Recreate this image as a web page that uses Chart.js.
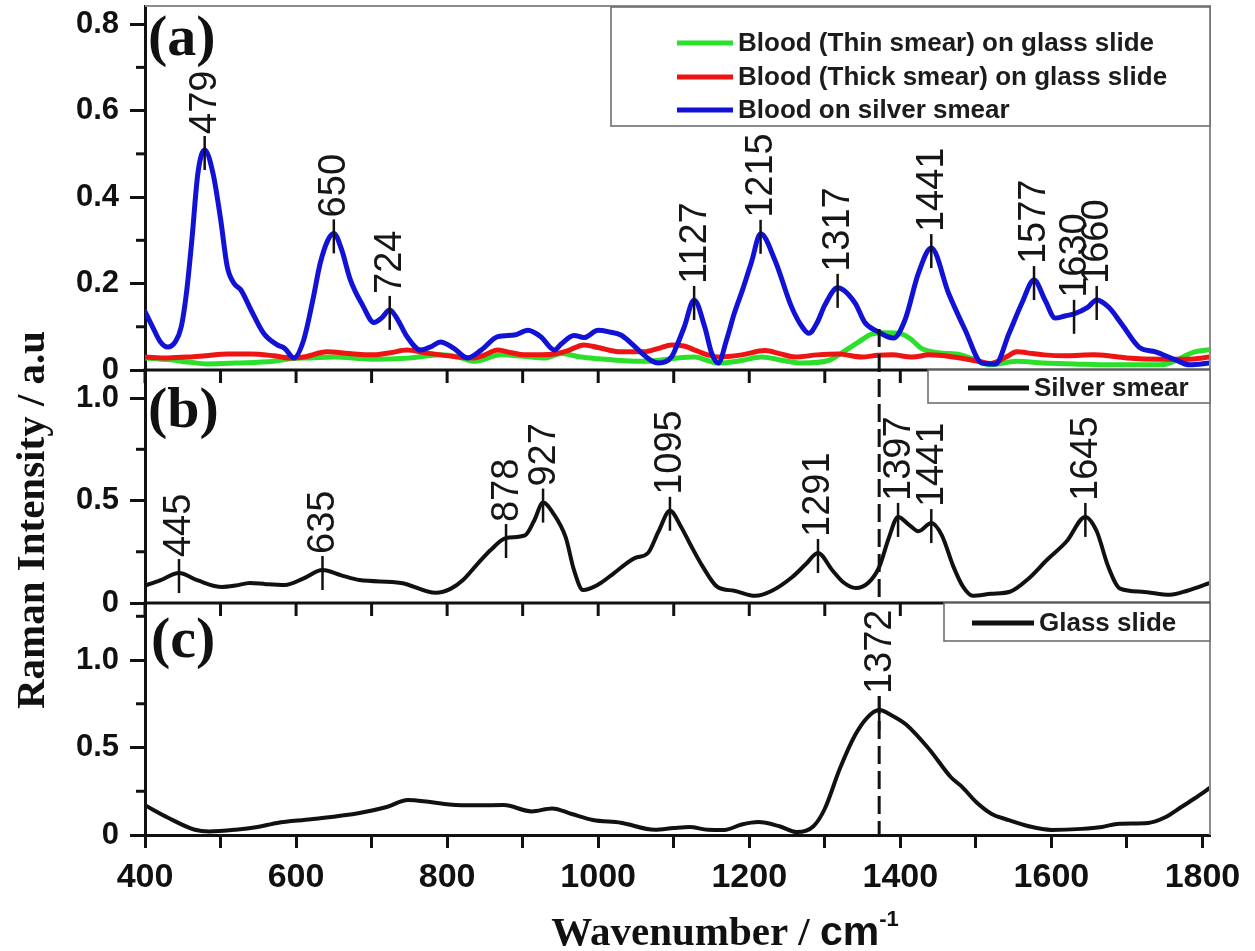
<!DOCTYPE html>
<html>
<head>
<meta charset="utf-8">
<title>Raman spectra</title>
<script src="https://cdn.jsdelivr.net/npm/chart.js@4.4.1/dist/chart.umd.min.js"></script>
<style>
  html, body { margin: 0; padding: 0; background: #fff; }
  #wrap { position: relative; width: 1255px; height: 951px; }
</style>
</head>
<body>
<div id="wrap"><canvas id="spectra"></canvas></div>
<script>
// ---- Panel (a): blood smears ----
const bloodSilverX = [400,410,420,430,440,448,455,462,470,479,
  490,500,509,518,527,540,557,575,585,597,
  610,622,632,642,650,660,672,688,703,713,
  724,735,747,765,780,791,809,827,845,867,
  889,907,924,942,951,968,981,1000,1015,1030,
  1045,1057,1070,1080,1097,1105,1114,1127,1141,1150,
  1159,1170,1180,1192,1203,1215,1234,1256,1270,1279,
  1290,1300,1317,1340,1353,1369,1391,1406,1424,1441,
  1464,1486,1508,1526,1544,1561,1577,1592,1605,1618,
  1630,1648,1660,1676,1694,1716,1738,1765,1783,1810];
const bloodSilverY = [0.135,0.10,0.066,0.053,0.065,0.10,0.18,0.30,0.455,0.509,
  0.455,0.35,0.238,0.20,0.185,0.14,0.085,0.058,0.05,0.028,
  0.069,0.16,0.247,0.30,0.316,0.28,0.208,0.15,0.11,0.12,
  0.139,0.115,0.077,0.046,0.055,0.065,0.05,0.028,0.046,0.077,
  0.081,0.092,0.077,0.046,0.06,0.08,0.075,0.092,0.088,0.081,
  0.06,0.04,0.022,0.016,0.03,0.06,0.10,0.162,0.10,0.04,
  0.016,0.07,0.13,0.19,0.25,0.315,0.254,0.146,0.10,0.085,
  0.11,0.15,0.19,0.155,0.11,0.09,0.074,0.115,0.224,0.282,
  0.177,0.092,0.016,0.014,0.085,0.155,0.208,0.16,0.12,0.125,
  0.13,0.145,0.162,0.145,0.104,0.053,0.042,0.023,0.012,0.016];

const thickX = [400,430,458,480,510,540,570,592,610,641,
  670,703,725,747,770,791,815,836,850,867,
  885,902,925,942,960,981,1000,1030,1060,1080,
  1097,1115,1128,1145,1159,1190,1221,1240,1261,1290,
  1318,1349,1370,1389,1416,1438,1470,1504,1519,1540,
  1554,1575,1590,1620,1656,1680,1700,1745,1780,1810];
const thickY = [0.03,0.028,0.03,0.033,0.037,0.037,0.033,0.028,0.03,0.042,
  0.038,0.035,0.04,0.046,0.04,0.035,0.03,0.028,0.035,0.046,
  0.04,0.035,0.035,0.037,0.045,0.058,0.052,0.042,0.042,0.05,
  0.058,0.055,0.046,0.035,0.03,0.035,0.045,0.038,0.03,0.035,
  0.037,0.03,0.034,0.035,0.03,0.035,0.03,0.02,0.015,0.03,
  0.042,0.038,0.035,0.033,0.035,0.032,0.028,0.025,0.025,0.03];

const thinX = [400,430,460,482,520,570,592,620,650,700,
  750,791,815,836,871,900,930,951,977,1000,
  1030,1065,1105,1128,1145,1159,1190,1216,1245,1270,
  1305,1327,1345,1362,1380,1402,1415,1428,1450,1480,
  1504,1519,1554,1590,1630,1678,1745,1765,1776,1790,
  1810];
const thinY = [0.028,0.024,0.018,0.014,0.016,0.02,0.026,0.028,0.03,0.025,
  0.028,0.035,0.03,0.02,0.035,0.032,0.028,0.038,0.03,0.026,
  0.022,0.02,0.028,0.03,0.022,0.016,0.022,0.03,0.022,0.016,
  0.022,0.045,0.065,0.083,0.086,0.083,0.07,0.05,0.04,0.035,
  0.02,0.012,0.02,0.016,0.014,0.012,0.012,0.022,0.032,0.042,
  0.047];

// ---- Panel (b): bare silver smear ----
const silverX = [400,420,445,470,502,520,539,560,585,610,
  635,660,684,739,785,805,821,840,858,878,
  903,915,927,940,957,968,980,1000,1021,1040,
  1049,1066,1080,1095,1110,1121,1138,1158,1180,1208,
  1230,1257,1275,1291,1310,1325,1341,1358,1372,1385,
  1397,1412,1424,1441,1455,1470,1483,1496,1520,1545,
  1570,1594,1620,1645,1660,1675,1691,1720,1757,1780,
  1810];
const silverY = [0.085,0.11,0.146,0.11,0.078,0.085,0.098,0.092,0.088,0.12,
  0.161,0.135,0.112,0.098,0.05,0.07,0.112,0.19,0.26,0.317,
  0.33,0.4,0.49,0.44,0.32,0.16,0.063,0.09,0.146,0.2,
  0.22,0.244,0.35,0.45,0.37,0.293,0.18,0.078,0.06,0.035,
  0.06,0.127,0.19,0.244,0.16,0.1,0.073,0.1,0.175,0.32,
  0.42,0.38,0.35,0.39,0.33,0.18,0.08,0.035,0.045,0.055,
  0.12,0.21,0.3,0.42,0.35,0.18,0.07,0.055,0.04,0.06,
  0.098];

// ---- Panel (c): bare glass slide ----
const glassX = [400,430,466,485,520,549,575,620,684,720,
  748,775,803,840,875,912,939,965,993,1030,
  1075,1100,1121,1145,1167,1190,1212,1240,1263,1285,
  1300,1320,1340,1356,1372,1390,1408,1439,1467,1482,
  1500,1521,1540,1570,1600,1640,1667,1690,1728,1750,
  1772,1790,1810];
const glassY = [0.17,0.1,0.03,0.02,0.03,0.046,0.069,0.09,0.126,0.16,
  0.2,0.19,0.175,0.17,0.171,0.135,0.152,0.12,0.086,0.07,
  0.03,0.04,0.046,0.03,0.029,0.06,0.074,0.05,0.017,0.05,
  0.15,0.38,0.57,0.67,0.714,0.68,0.63,0.486,0.33,0.274,
  0.19,0.12,0.09,0.05,0.029,0.035,0.046,0.065,0.069,0.1,
  0.16,0.21,0.27];

// ---- Labelled band positions (cm^-1) ----
const peaksA = [479, 650, 724, 1127, 1215, 1317, 1441, 1577, 1630, 1660];
const peaksB = [445, 635, 878, 927, 1095, 1291, 1397, 1441, 1645];
const peaksC = [1372];
const guideBand = 1372;          // dashed guide through all panels
const guideTopA = 0.095;         // where the guide starts in panel (a)

// ---- Axis ticks and labels ----
const xTickValues = [400,500,600,700,800,900,1000,1100,1200,1300,1400,1500,1600,1700,1800];
const xTickLabels = [400, 600, 800, 1000, 1200, 1400, 1600, 1800];
const panelTags = ['(a)', '(b)', '(c)'];

const SANS = "'Liberation Sans', Arial, sans-serif";
const SERIF = "'Liberation Serif', 'Times New Roman', serif";
const INK = '#111';

const pts = (xs, ys) => xs.map((x, i) => ({ x, y: ys[i] }));
const valueAt = (xs, ys, x) => ys[xs.indexOf(x)];

const lineStyle = {
  pointRadius: 0, fill: false, cubicInterpolationMode: 'monotone',
  borderJoinStyle: 'round', borderCapStyle: 'round'
};

const datasets = [
  { ...lineStyle, label: 'Blood on silver smear', data: pts(bloodSilverX, bloodSilverY),
    borderColor: '#1212d6', borderWidth: 5, yAxisID: 'yA', order: 0 },
  { ...lineStyle, label: 'Blood (Thick smear) on glass slide', data: pts(thickX, thickY),
    borderColor: '#ee1414', borderWidth: 5, yAxisID: 'yA', order: 1 },
  { ...lineStyle, label: 'Blood (Thin smear) on glass slide', data: pts(thinX, thinY),
    borderColor: '#2ae02a', borderWidth: 5, yAxisID: 'yA', order: 2 },
  { ...lineStyle, label: 'Silver smear', data: pts(silverX, silverY),
    borderColor: INK, borderWidth: 4, yAxisID: 'yB', order: 3 },
  { ...lineStyle, label: 'Glass slide', data: pts(glassX, glassY),
    borderColor: INK, borderWidth: 4, yAxisID: 'yC', order: 4 }
];

const yFmt = v => (v === 0 ? '0' : v.toFixed(1));

function panelAxis(max, step, weight, stackWeight) {
  return {
    type: 'linear', position: 'left', stack: 'panels', stackWeight, weight,
    min: 0, max,
    // fixed gutter width; no extra room reserved for the end labels
    afterFit: s => { s.width = 145; s.paddingTop = 0; s.paddingBottom = 0; },
    border: { color: INK, width: 3 },
    grid: { drawOnChartArea: false, drawTicks: true, tickLength: 15, tickWidth: 3, tickColor: INK },
    ticks: {
      stepSize: step, includeBounds: false, padding: 11, color: INK,
      font: { family: SANS, size: 31, weight: 'bold' }, callback: yFmt
    }
  };
}

function strokeLine(ctx, x1, y1, x2, y2) {
  ctx.beginPath(); ctx.moveTo(x1, y1); ctx.lineTo(x2, y2); ctx.stroke();
}

function drawPeaks(ctx, xScale, yScale, peaks, xs, ys) {
  ctx.save();
  ctx.strokeStyle = INK; ctx.lineWidth = 2.5; ctx.fillStyle = '#161616';
  ctx.font = `38px ${SANS}`; ctx.textAlign = 'left'; ctx.textBaseline = 'middle';
  peaks.forEach(p => {
    const px = xScale.getPixelForValue(p);
    const py = yScale.getPixelForValue(valueAt(xs, ys, p));
    strokeLine(ctx, px, py - 14, px, py + 20);
    ctx.save();
    ctx.translate(px + 1, py - 16);
    ctx.rotate(-Math.PI / 2);
    ctx.fillText(String(p), 0, 0);
    ctx.restore();
  });
  ctx.restore();
}

function drawLegend(ctx, box, entries) {
  ctx.save();
  ctx.fillStyle = '#fff';
  ctx.fillRect(box.l, box.t, box.r - box.l, box.b - box.t);
  ctx.strokeStyle = '#6e6e6e'; ctx.lineWidth = 1.6;
  ctx.strokeRect(box.l, box.t, box.r - box.l, box.b - box.t);
  ctx.font = `bold 26px ${SANS}`; ctx.textBaseline = 'middle'; ctx.textAlign = 'left';
  entries.forEach(e => {
    ctx.strokeStyle = e.color; ctx.lineWidth = 5; ctx.lineCap = 'butt';
    strokeLine(ctx, e.x1, e.y, e.x2, e.y);
    ctx.fillStyle = '#1c1c1c';
    ctx.fillText(e.label, e.x2 + 5, e.y + 1);
  });
  ctx.restore();
}

const decor = {
  id: 'decor',
  afterDatasetsDraw(chart) {
    const { ctx, scales } = chart;
    const { x, yA, yB, yC } = scales;
    const ds = chart.data.datasets;
    ctx.save();

    // light frame along the top and the right edge
    ctx.strokeStyle = '#8c8c8c'; ctx.lineWidth = 2;
    ctx.beginPath();
    ctx.moveTo(x.left, yA.top); ctx.lineTo(x.right, yA.top); ctx.lineTo(x.right, yC.bottom);
    ctx.stroke();

    // axis lines between stacked panels, with ticks hanging into the panel below
    ctx.strokeStyle = INK; ctx.lineWidth = 3;
    [yA, yB].forEach(s => {
      strokeLine(ctx, x.left - 1.5, s.bottom, x.right, s.bottom);
      x.ticks.forEach(t => {
        const px = x.getPixelForValue(t.value);
        strokeLine(ctx, px, s.bottom, px, s.bottom + 13);
      });
    });

    // minor ticks on each intensity axis
    [yA, yB, yC].forEach(s => {
      const step = s.ticks[1].value - s.ticks[0].value;
      s.ticks.forEach(t => {
        const m = t.value + step / 2;
        if (m < s.max) {
          const py = s.getPixelForValue(m);
          strokeLine(ctx, s.right - 9, py, s.right, py);
        }
      });
    });

    // band markers
    drawPeaks(ctx, x, yA, peaksA, bloodSilverX, bloodSilverY);
    drawPeaks(ctx, x, yB, peaksB, silverX, silverY);
    drawPeaks(ctx, x, yC, peaksC, glassX, glassY);

    // dashed guide at the glass band
    const gx = x.getPixelForValue(guideBand);
    ctx.setLineDash([18, 7]); ctx.lineWidth = 3; ctx.strokeStyle = INK;
    strokeLine(ctx, gx, yA.getPixelForValue(guideTopA), gx, yB.bottom);
    strokeLine(ctx, gx, yC.getPixelForValue(valueAt(glassX, glassY, guideBand)) - 14, gx, yC.bottom);
    ctx.setLineDash([]);

    // legends
    drawLegend(ctx, { l: 611, t: yA.top + 1, r: x.right, b: 126 }, [
      { label: ds[2].label, color: ds[2].borderColor, x1: 677, x2: 733, y: 43 },
      { label: ds[1].label, color: ds[1].borderColor, x1: 677, x2: 733, y: 77 },
      { label: ds[0].label, color: ds[0].borderColor, x1: 677, x2: 733, y: 110 }
    ]);
    drawLegend(ctx, { l: 928, t: yB.top, r: x.right, b: yB.top + 33 }, [
      { label: ds[3].label, color: INK, x1: 968, x2: 1029, y: yB.top + 18 }
    ]);
    drawLegend(ctx, { l: 944, t: yC.top, r: x.right, b: yC.top + 38 }, [
      { label: ds[4].label, color: INK, x1: 972, x2: 1034, y: yC.top + 20 }
    ]);

    // panel tags
    ctx.fillStyle = INK; ctx.font = `bold 58px ${SERIF}`;
    ctx.textAlign = 'left'; ctx.textBaseline = 'alphabetic';
    ctx.fillText(panelTags[0], x.left + 3, yA.top + 49);
    ctx.fillText(panelTags[1], x.left + 3, yB.top + 57);
    ctx.fillText(panelTags[2], x.left + 6, yC.top + 54);

    // intensity title
    ctx.save();
    ctx.translate(44, 520);
    ctx.rotate(-Math.PI / 2);
    ctx.font = `bold 41px ${SERIF}`; ctx.textAlign = 'center';
    ctx.fillText('Raman Intensity / a.u', 0, 0);
    ctx.restore();

    // wavenumber title with superscript unit
    const parts = [
      { t: 'Wavenumber / ', f: `bold 41px ${SERIF}`, dy: 0 },
      { t: 'cm', f: `bold 41px ${SANS}`, dy: 0 },
      { t: '-1', f: `bold 22px ${SANS}`, dy: -19 }
    ];
    let total = 0;
    parts.forEach(p => { ctx.font = p.f; p.w = ctx.measureText(p.t).width; total += p.w; });
    let cx = 725 - total / 2;
    parts.forEach(p => { ctx.font = p.f; ctx.fillText(p.t, cx, 945 + p.dy); cx += p.w; });

    ctx.restore();
  }
};

new Chart(document.getElementById('spectra'), {
  type: 'line',
  data: { datasets },
  options: {
    responsive: true, maintainAspectRatio: false, animation: false, devicePixelRatio: 1,
    layout: { padding: { left: 0, right: 45, top: 6, bottom: 0 } },
    plugins: { legend: { display: false }, tooltip: { enabled: false } },
    scales: {
      x: {
        type: 'linear', min: 400, max: 1810,
        afterBuildTicks: s => { s.ticks = xTickValues.map(value => ({ value })); },
        afterFit: s => { s.height = 116; },
        border: { color: INK, width: 3 },
        grid: { drawOnChartArea: false, drawTicks: true, tickLength: 13, tickWidth: 3, tickColor: INK },
        ticks: {
          autoSkip: false, maxRotation: 0, padding: 9,
          color: INK, font: { family: SANS, size: 34, weight: 'bold' },
          callback: v => (xTickLabels.includes(v) ? String(v) : '')
        }
      },
      yA: panelAxis(0.842, 0.2, 3, 364),
      yB: panelAxis(1.137, 0.5, 2, 233),
      yC: panelAxis(1.326, 0.5, 1, 232)
    }
  },
  plugins: [decor]
});
</script>
</body>
</html>
